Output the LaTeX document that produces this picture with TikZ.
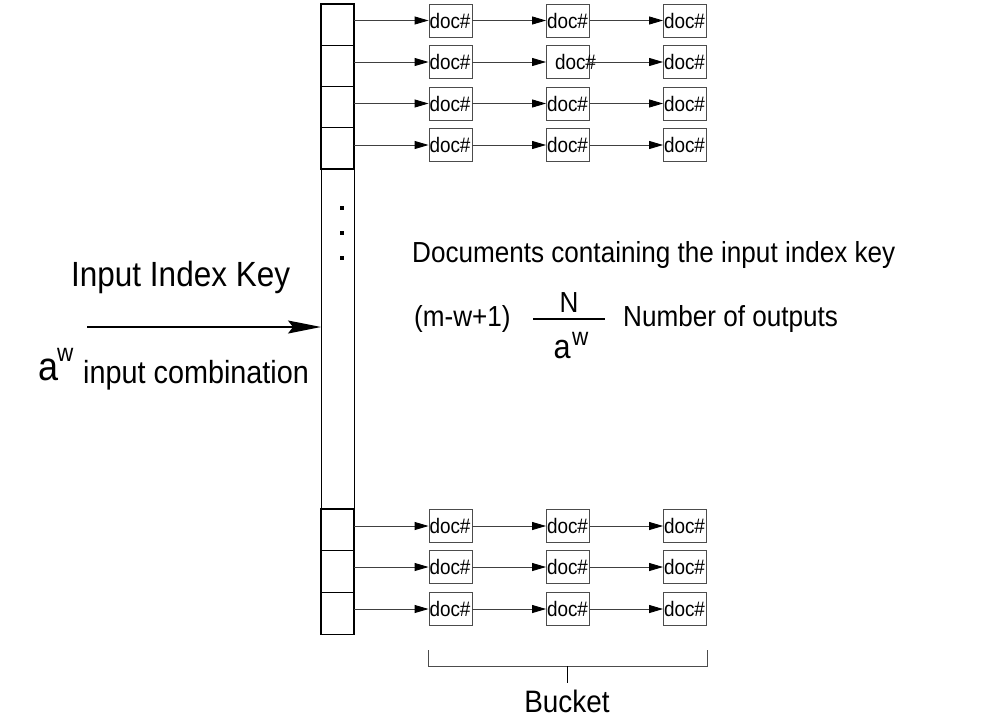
\documentclass[tikz,border=0pt]{standalone}
\usepackage{fontspec}
\setmainfont{Liberation Sans}[FakeStretch=0.9]
\usetikzlibrary{arrows.meta,calc}
\newcommand{\fsz}[1]{\fontsize{#1}{#1}\selectfont}
\begin{document}
\begin{tikzpicture}[x=1pt,y=-1pt,
  cell/.style={draw=black, line width=1.1pt, minimum width=33pt, inner sep=0pt, outer sep=0pt, anchor=north},
  docbox/.style={draw=black!70, line width=0.9pt, minimum width=43pt, minimum height=33pt,
     inner ysep=0pt, inner xsep=0.5pt, text width=42pt, align=left, font=\fsz{21}},
  link/.style={draw=black!75, line width=0.9pt, -{Triangle[length=14pt,width=8pt,color=black]}},
  bigarrow/.style={draw=black, line width=1.2pt, -{Stealth[length=33pt,width=13pt,inset=5pt]}},
  lbl/.style={inner sep=0pt, anchor=base west},
  dot/.style={fill=black, inner sep=0pt, minimum size=4pt, draw=none}
]
\useasboundingbox (0,0) rectangle (984,723);
\fill[white] (0,0) rectangle (984,723);

% column cells
\node[cell, minimum height=41.25pt] (c1) at (337.5,4) {};
\node[cell, minimum height=41.25pt] (c2) at (c1.south) {};
\node[cell, minimum height=41.25pt] (c3) at (c2.south) {};
\node[cell, minimum height=41.25pt] (c4) at (c3.south) {};
\node[cell, minimum height=340pt, line width=0.9pt] (cm) at (c4.south) {};
\node[cell, minimum height=41.7pt] (c5) at (cm.south) {};
\node[cell, minimum height=41.7pt] (c6) at (c5.south) {};
\node[cell, minimum height=41.7pt] (c7) at (c6.south) {};

% dots
\node[dot] (p1) at (342,208) {};
\node[dot] (p2) at (342,233) {};
\node[dot] (p3) at (342,258) {};

% doc boxes
\foreach \r/\y in {1/20.5,2/62,3/103.5,4/145,5/526,6/567,7/609}{
  \node[docbox] (d\r1) at (450.5,\y) {doc\#};
  \ifnum\r=2
    \node[docbox] (d\r2) at (568,\y) {\hspace*{8pt}doc\#};
  \else
    \node[docbox] (d\r2) at (568,\y) {doc\#};
  \fi
  \node[docbox] (d\r3) at (685,\y) {doc\#};
  \draw[link] (c\r.east |- d\r1.west) -- (d\r1.west);
  \draw[link] (d\r1.east) -- (d\r2.west);
  \draw[link] (d\r2.east) -- (d\r3.west);
}

% input arrow
\coordinate (in) at (87,327);
\draw[bigarrow] (in) -- (cm.west |- in);

% texts
\node[lbl] (ik) at (71,286) {\fsz{35}Input Index Key};
\node[lbl] (aa) at (38,380) {\fsz{40}a};
\node[lbl] (aw) at (57,361) {\fsz{25}w};
\node[lbl] (ic) at (83,383) {\fsz{32}input combination};

\node[lbl] (docs) at (412,262) {\fsz{29}Documents containing the input index key};
\node[lbl] (mw) at (414,326) {\fsz{29}(m-w+1)};
\node[inner sep=0pt, anchor=base] (nn) at (569,312) {\fsz{29}N};
\draw[line width=1.2pt] (533,319) -- (605,319);
\node[inner sep=0pt, anchor=base] (na) at (562,358) {\fsz{34}a};
\node[lbl] (nw) at (572,345) {\fsz{25}w};
\node[lbl] (no) at (623,326) {\fsz{29}Number of outputs};

% bucket bracket
\draw[draw=black!70, line width=0.9pt] (d71.west |- 0,650) -- (d71.west |- 0,666) -- (d73.east |- 0,666) -- (d73.east |- 0,650);
\draw[draw=black, line width=0.9pt] (567,666) -- (567,683);
\node[inner sep=0pt, anchor=base] (bk) at (567,712) {\fsz{31}Bucket};
\end{tikzpicture}
\end{document}
